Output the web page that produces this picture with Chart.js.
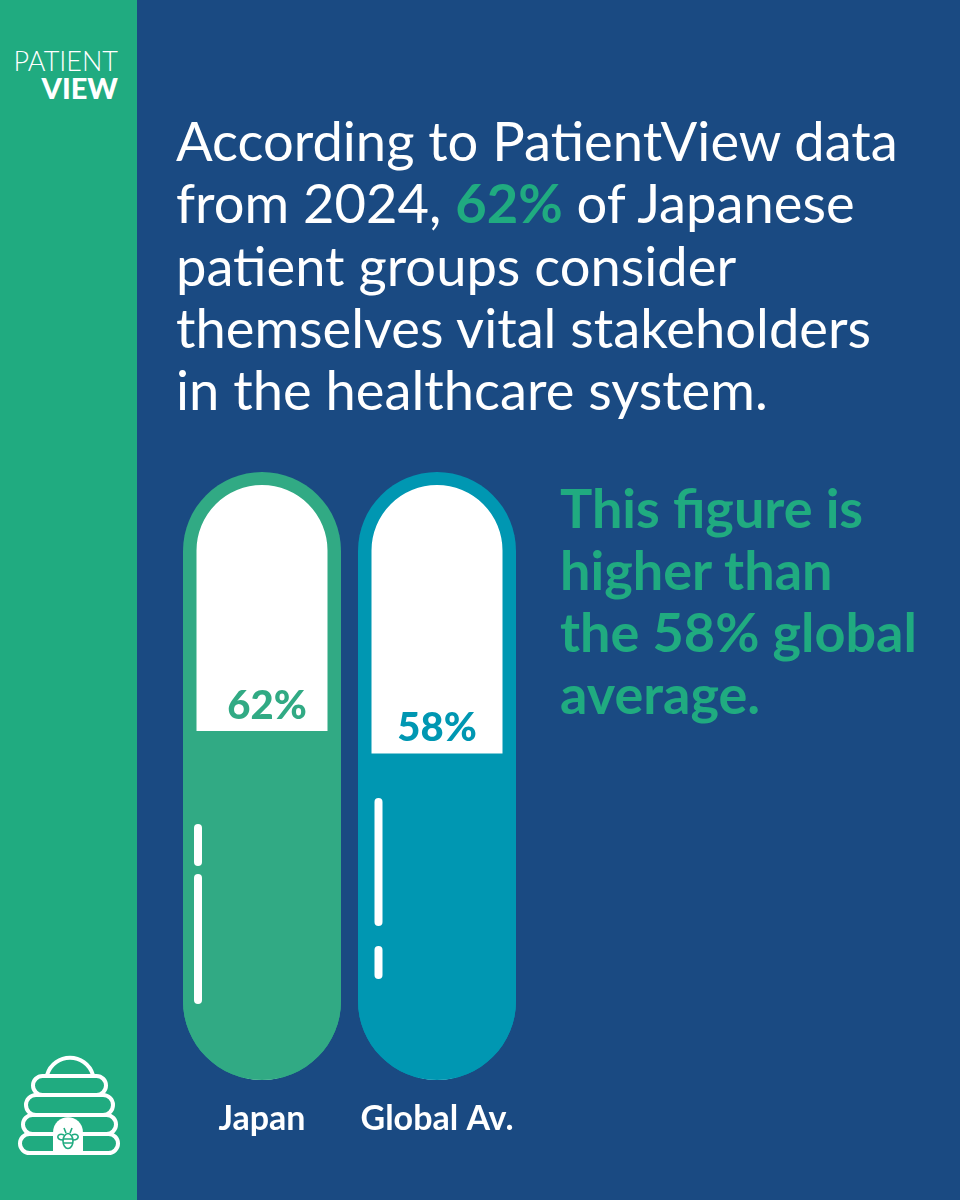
<!DOCTYPE html>
<html>
<head>
<meta charset="utf-8">
<title>PatientView</title>
<script src="https://cdn.jsdelivr.net/npm/chart.js@4"></script>
<style>
  html, body { margin: 0; padding: 0; width: 960px; height: 1200px; overflow: hidden; background: #1a4a82; font-family: Lato, sans-serif; }
  #side { position: absolute; left: 0; top: 0; width: 137px; height: 1200px; background: #20ab80; }
  #chart { position: absolute; left: 0; top: 0; }
  .logo1, .logo2 { position: absolute; right: 842px; color: #fff; white-space: nowrap; }
  .logo1 { top: 45px; font-size: 27px; font-weight: 300; line-height: 32px; }
  .logo2 { top: 71px; font-size: 29px; font-weight: 900; line-height: 34px; }
  #head { position: absolute; left: 176px; top: 109px; font-size: 54.3px; line-height: 62.3px; color: #fff; white-space: nowrap; }
  #head b { color: #20ab80; font-weight: 700; }
  #note { position: absolute; left: 560px; top: 477px; font-size: 54px; line-height: 62px; font-weight: 700; color: #20ab80; white-space: nowrap; }
  #hive { position: absolute; left: 0; top: 1030px; }
</style>
</head>
<body>
<div id="side"></div>
<div class="logo1">PATIENT</div>
<div class="logo2">VIEW</div>
<svg id="hive" width="137" height="170" fill="none" stroke="#fff" stroke-width="4">
  <path d="M47 45 C54 22 86 22 93 45"/>
  <rect x="33" y="46" width="73" height="19" rx="9.5"/>
  <rect x="26" y="65" width="87" height="20" rx="10"/>
  <rect x="23" y="85" width="93" height="19" rx="9.5"/>
  <rect x="20" y="104" width="98" height="19" rx="9.5"/>
  <path d="M53 123 V103 C53 82 83 82 83 103 V123 Z" fill="#fff" stroke="none"/>
  <g stroke="#20ab80" stroke-width="1.6">
    <ellipse cx="68" cy="111" rx="5" ry="7.5"/>
    <path d="M63 109 H73 M63 113 H73"/>
    <path d="M64 105 C57 102 55 110 63 110 M72 105 C79 102 81 110 73 110"/>
    <path d="M66 103 L64 98 M70 103 L72 98"/>
  </g>
</svg>
<div id="head">According to PatientView data<br>from 2024, <b>62%</b> of Japanese<br>patient groups consider<br>themselves vital stakeholders<br>in the healthcare system.</div>
<div id="note">This figure is<br>higher than<br>the 58% global<br>average.</div>
<canvas id="chart" width="960" height="1200"></canvas>
<script>
const categories = ['Japan', 'Global Av.'];
const shares = [62, 58];
const shareLabels = ['62%', '58%'];
const trackFull = [108, 108];
const trackInner = [105.7, 105.7];

const barColors = ['#31aa84', '#0097b2'];

// white glints on the capsules, [x, top, bottom] in px
const glints = [
  [[198, 824, 866], [198, 874, 1004]],
  [[378.5, 798, 926], [378.5, 946, 979]]
];

const capsuleExtras = {
  id: 'capsuleExtras',
  afterDatasetsDraw(chart) {
    const ctx = chart.ctx;
    const y = chart.scales.y;
    const x = chart.scales.x;
    ctx.save();
    ctx.fillStyle = '#fff';
    glints.forEach(list => list.forEach(g => {
      ctx.beginPath();
      ctx.roundRect(g[0] - 4, g[1], 8, g[2] - g[1], 4);
      ctx.fill();
    }));
    ctx.font = '900 40px Lato';
    ctx.textAlign = 'center';
    ctx.textBaseline = 'alphabetic';
    shares.forEach((v, i) => {
      ctx.fillStyle = barColors[i];
      ctx.fillText(shareLabels[i], x.getPixelForValue(i) + (i === 0 ? 5 : 0), y.getPixelForValue(v) - 12);
    });
    ctx.restore();
  }
};

new Chart(document.getElementById('chart'), {
  type: 'bar',
  data: {
    labels: categories,
    datasets: [
      {
        label: 'Share',
        data: shares,
        order: 1,
        grouped: false,
        barThickness: 158,
        inflateAmount: 0,
        backgroundColor: barColors,
        borderSkipped: false,
        borderRadius: { topLeft: 0, topRight: 0, bottomLeft: 79, bottomRight: 79 }
      },
      {
        label: 'Inner',
        data: trackInner,
        order: 2,
        grouped: false,
        barThickness: 131,
        inflateAmount: 0,
        backgroundColor: '#fff',
        borderSkipped: false,
        borderRadius: 65.5
      },
      {
        label: 'Track',
        data: trackFull,
        order: 3,
        grouped: false,
        barThickness: 158,
        inflateAmount: 0,
        backgroundColor: barColors,
        borderSkipped: false,
        borderRadius: 79
      }
    ]
  },
  options: {
    responsive: false,
    animation: false,
    layout: { padding: { left: 174.5, right: 435.5, top: 472, bottom: 0 } },
    plugins: { legend: { display: false }, tooltip: { enabled: false } },
    scales: {
      x: {
        grid: { display: false },
        border: { display: false },
        afterFit(s) { s.height = 120; },
        ticks: { color: '#fff', padding: 11, maxRotation: 0, font: { family: 'Lato', size: 34, weight: '700' } }
      },
      y: { display: false, min: 0, max: 108 }
    }
  },
  plugins: [capsuleExtras]
});
</script>
</body>
</html>
